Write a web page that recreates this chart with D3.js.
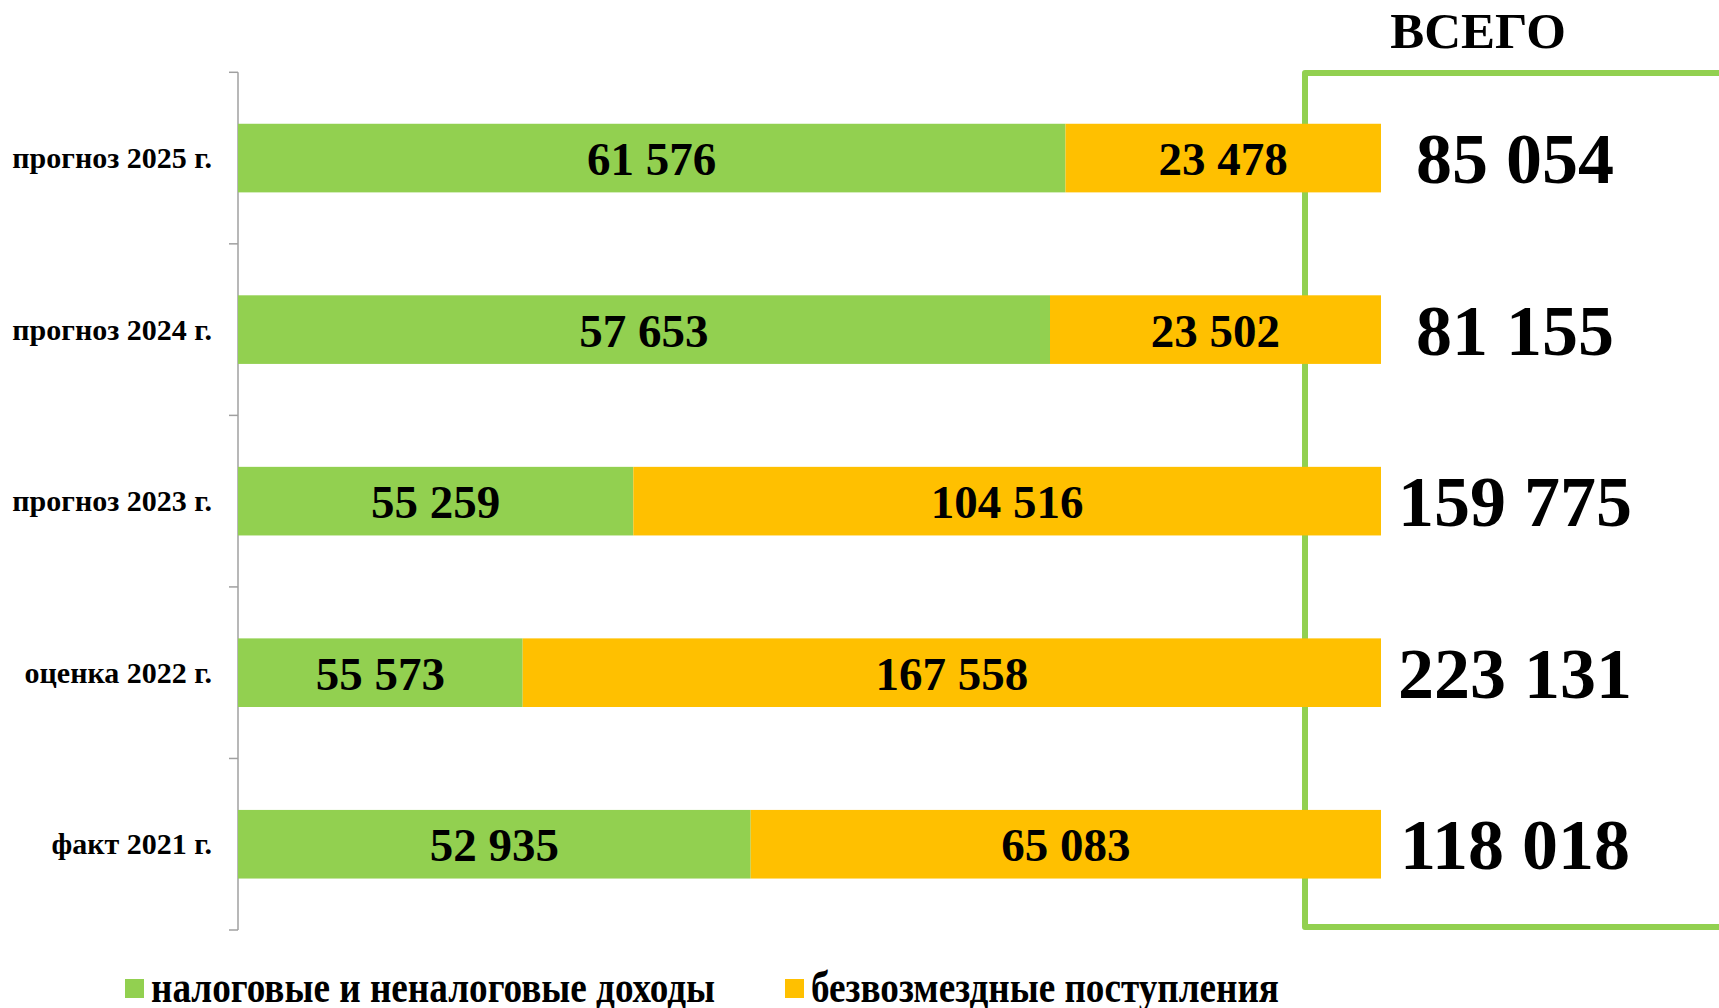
<!DOCTYPE html>
<html><head><meta charset="utf-8">
<script src="https://cdn.jsdelivr.net/npm/d3@7"></script>
<style>
html,body{margin:0;padding:0;background:#fff;}
svg{display:block;font-family:"Liberation Serif","Times New Roman",serif;font-weight:bold;}
</style></head>
<body>
<script>
// Data (top to bottom as drawn)
const categories = ["прогноз 2025 г.", "прогноз 2024 г.", "прогноз 2023 г.", "оценка 2022 г.", "факт 2021 г."];
const taxIncome = [61576, 57653, 55259, 55573, 52935];
const grants = [23478, 23502, 104516, 167558, 65083];
const seriesNames = ["налоговые и неналоговые доходы", "безвозмездные поступления"];
const seriesColors = ["#92d050", "#ffc000"];
const totalTitle = "ВСЕГО";

const W = 1719, H = 1008;
const svg = d3.select("body").append("svg").attr("width", W).attr("height", H);

const fmt = d3.formatLocale({decimal: ",", thousands: "\u00a0", grouping: [3], currency: ["", ""]}).format(",d");

const rows = categories.map((c, i) => ({cat: c, a: taxIncome[i], b: grants[i], total: taxIncome[i] + grants[i]}));

const x = d3.scaleLinear().domain([0, 1]).range([238, 1381]);
const y = d3.scaleBand().domain(categories).range([72.3, 930]).paddingInner(0.6).paddingOuter(0.3);

// Green total box
const box = d3.path();
box.moveTo(W + 5, 73); box.lineTo(1305, 73); box.lineTo(1305, 927); box.lineTo(W + 5, 927);
svg.append("path").attr("d", box.toString()).attr("fill", "none").attr("stroke", "#92d050").attr("stroke-width", 6).attr("stroke-linejoin", "round");

// Axis line and ticks
const step = y.step();
const y0 = y(categories[0]) - step * y.paddingOuter();
svg.append("line").attr("x1", 238).attr("x2", 238).attr("y1", y0).attr("y2", y0 + step * categories.length)
  .attr("stroke", "#a0a0a0").attr("stroke-width", 1.5);
d3.range(categories.length + 1).forEach(i => {
  svg.append("line").attr("x1", 229).attr("x2", 238).attr("y1", y0 + i * step).attr("y2", y0 + i * step)
    .attr("stroke", "#a0a0a0").attr("stroke-width", 1.5);
});

// Bars
const stacked = d3.stack().keys(["a", "b"]).offset(d3.stackOffsetExpand)(rows);
stacked.forEach((s, si) => {
  const g = svg.append("g");
  g.selectAll("rect").data(s).enter().append("rect")
    .attr("x", d => x(d[0])).attr("width", d => x(d[1]) - x(d[0]))
    .attr("y", d => y(d.data.cat)).attr("height", y.bandwidth())
    .attr("fill", seriesColors[si]);
  g.selectAll("text").data(s).enter().append("text")
    .attr("x", d => (x(d[0]) + x(d[1])) / 2)
    .attr("y", d => y(d.data.cat) + y.bandwidth() / 2 + 17)
    .attr("text-anchor", "middle").attr("font-size", 47).attr("fill", "#000")
    .text(d => fmt(d.data[s.key]));
});

// Category labels
svg.append("g").selectAll("text").data(categories).enter().append("text")
  .attr("x", 212).attr("y", d => y(d) + y.bandwidth() / 2 + 10)
  .attr("text-anchor", "end").attr("font-size", 30).attr("fill", "#000").text(d => d);

// Totals
svg.append("g").selectAll("text").data(rows).enter().append("text")
  .attr("x", 1515).attr("y", d => y(d.cat) + y.bandwidth() / 2 + 25)
  .attr("text-anchor", "middle").attr("font-size", 72).attr("fill", "#000").text(d => fmt(d.total));

svg.append("text").attr("x", 1478).attr("y", 48).attr("text-anchor", "middle").attr("font-size", 51).text(totalTitle);

// Legend
const legX = [125, 785];
const leg = svg.append("g");
seriesNames.forEach((n, i) => {
  leg.append("rect").attr("x", legX[i]).attr("y", 979).attr("width", 19).attr("height", 19).attr("fill", seriesColors[i]);
  leg.append("text").attr("transform", `translate(${legX[i] + 26},1002) scale(0.845,1)`)
    .attr("font-size", 44).text(n);
});
</script>
</body></html>
